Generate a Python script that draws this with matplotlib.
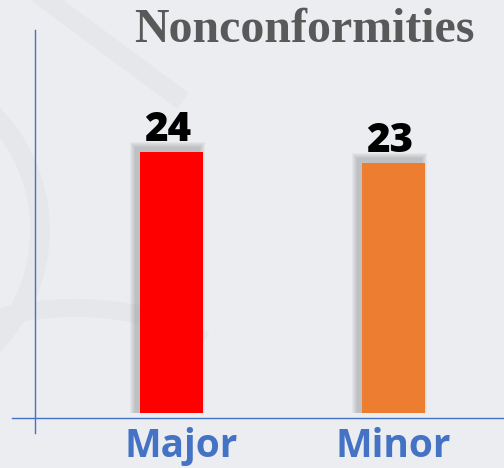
import matplotlib
matplotlib.use('Agg')
import matplotlib.pyplot as plt
import matplotlib.transforms as mtransforms
from matplotlib.lines import Line2D
from matplotlib.patches import Arc
import numpy as np

categories = ['Major', 'Minor']
values = [24, 23]
bar_colors = ['#ff0000', '#ed7d31']
title = 'Nonconformities'

W, H = 504, 468
bg = '#ecedf1'
blue = '#4472c4'

fig = plt.figure(figsize=(W / 100, H / 100), dpi=100)
fig.patch.set_facecolor(bg)

# faint background swooshes
arc_col = '#e6e7eb'
fig.add_artist(Arc((-125, 238), 330, 330, theta1=-60, theta2=60, lw=14, color=arc_col, transform=None, zorder=0))
fig.add_artist(Arc((75, 80), 320, 160, theta1=20, theta2=180, lw=13, color=arc_col, transform=None, zorder=0))
fig.add_artist(Line2D([40, 175], [H + 5, H - 95], lw=14, color=arc_col, transform=None, zorder=0))

# axes: bottom edge at the bars' base (pixel 413 from top)
base = 413
px_per_unit = 10.875
ax = fig.add_axes([0, (H - base) / H, 1, base / H])
ax.patch.set_visible(False)
x = np.arange(len(categories))
ux = 222.0  # px between categories
ax.set_xlim(-171.5 / ux, (W - 171.5) / ux)
ax.set_ylim(0, base / px_per_unit)
width = 63 / ux

# soft shadow left/top of each bar
for k in range(1, 7):
    ax.bar(x - 4 / ux, np.array(values) + (4 + k) / px_per_unit, width=width + 2 * k / ux,
           color='#606060', alpha=0.06, linewidth=0, zorder=1)
ax.bar(x, values, width=width, color=bar_colors, linewidth=0, zorder=2)

for xi, v in zip(x, values):
    ax.text(xi - 4 / ux, v + 11 / px_per_unit, str(v), ha='center', va='baseline',
            fontsize=29, fontweight=800, family='Open Sans', color='black', zorder=3)

ax.set_xticks(x)
ax.set_xticklabels(categories, fontsize=28, fontweight='bold', family='Open Sans', color=blue)
ax.tick_params(axis='x', length=0, pad=10)
lbl = ax.get_xticklabels()[0]
lbl.set_transform(lbl.get_transform() + mtransforms.ScaledTranslation(0.1, 0, fig.dpi_scale_trans))
ax.set_yticks([])
for s in ax.spines.values():
    s.set_visible(False)

# axis lines
fig.add_artist(Line2D([34.5 / W, 34.5 / W], [(H - 433) / H, (H - 30) / H], color=blue, lw=1.0))
fig.add_artist(Line2D([12 / W, 1], [(H - 417.5) / H, (H - 417.5) / H], color=blue, lw=1.0))

fig.text(304.5 / W, (H - 41.5) / H, title, ha='center', va='baseline', fontsize=34.5,
         fontweight='bold', family='Liberation Serif', color='#595959')

fig.savefig('out.png', dpi=100, facecolor=bg)
